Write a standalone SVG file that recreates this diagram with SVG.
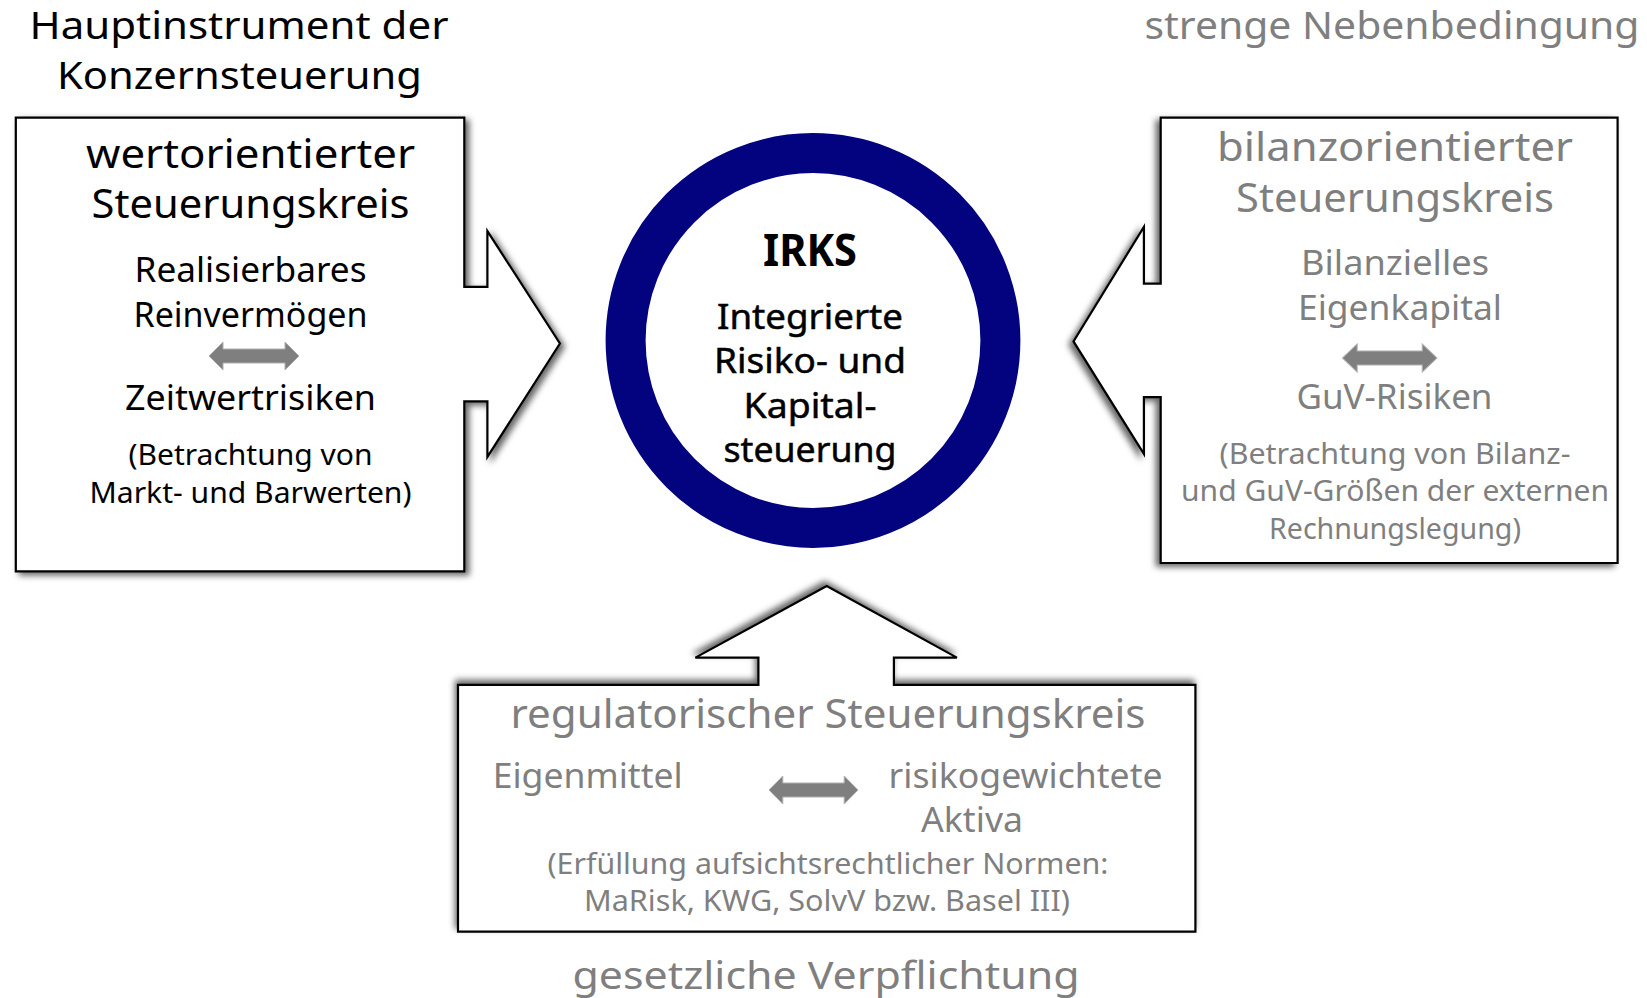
<svg xmlns="http://www.w3.org/2000/svg" width="1647" height="998" viewBox="0 0 1647 998">
<defs>
<style>
text{font-family:"Noto Sans","Open Sans","DejaVu Sans",sans-serif;text-anchor:middle;}
.blk{fill:#000;}
.gry{fill:#7f7f7f;}
.h1{font-size:38px;}
.h2{font-size:40px;}
.t1{font-size:34px;}
.t2{font-size:29px;}
.c1{font-size:44px;font-weight:bold;}
.c2{font-size:35px;stroke:#000;stroke-width:0.5;}
.callout{fill:#fff;stroke:#000;stroke-width:2.2;stroke-linejoin:miter;}
.dbl{fill:#7f7f7f;stroke:#b0b0b0;stroke-width:1;}
</style>
<filter id="shR" x="-10%" y="-10%" width="125%" height="125%">
<feDropShadow dx="4" dy="3" stdDeviation="3" flood-color="#000" flood-opacity="0.6"/>
</filter>
<filter id="shL" x="-15%" y="-10%" width="125%" height="125%">
<feDropShadow dx="-4" dy="3" stdDeviation="3" flood-color="#000" flood-opacity="0.6"/>
</filter>
<filter id="shU" x="-10%" y="-20%" width="125%" height="135%">
<feDropShadow dx="-2" dy="-4" stdDeviation="3" flood-color="#000" flood-opacity="0.6"/>
</filter>
<path id="dblarrow" d="M-45,0 L-31,-14 L-31,-7 L31,-7 L31,-14 L45,0 L31,14 L31,7 L-31,7 L-31,14 Z"/>
</defs>

<g id="title-left" class="blk">
<text class="h1" x="239" y="39" textLength="419" lengthAdjust="spacingAndGlyphs">Hauptinstrument der</text>
<text class="h1" x="239.5" y="89" textLength="365" lengthAdjust="spacingAndGlyphs">Konzernsteuerung</text>
</g>

<g id="title-right" class="gry">
<text class="h1" x="1392" y="39" textLength="495" lengthAdjust="spacingAndGlyphs">strenge Nebenbedingung</text>
</g>

<g id="title-bottom" class="gry">
<text class="h1" x="826" y="989" textLength="507" lengthAdjust="spacingAndGlyphs">gesetzliche Verpflichtung</text>
</g>

<g id="node-left">
<path class="callout" filter="url(#shR)" d="M15.8,117.6 L464.3,117.6 L464.3,286.8 L487.4,286.8 L487.4,231.1 L559.9,343.5 L487.4,456.9 L487.4,401.3 L464.3,401.3 L464.3,571.4 L15.8,571.4 Z"/>
<g class="blk">
<text class="h2" x="250.5" y="168" textLength="329" lengthAdjust="spacingAndGlyphs">wertorientierter</text>
<text class="h2" x="250.5" y="218" textLength="318" lengthAdjust="spacingAndGlyphs">Steuerungskreis</text>
<text class="t1" x="250.5" y="281.5" textLength="232" lengthAdjust="spacingAndGlyphs">Realisierbares</text>
<text class="t1" x="250.5" y="326.5" textLength="234" lengthAdjust="spacingAndGlyphs">Reinvermögen</text>
<text class="t1" x="250.5" y="409.5" textLength="251" lengthAdjust="spacingAndGlyphs">Zeitwertrisiken</text>
<text class="t2" x="250.5" y="465" textLength="244" lengthAdjust="spacingAndGlyphs">(Betrachtung von</text>
<text class="t2" x="250.5" y="503" textLength="322" lengthAdjust="spacingAndGlyphs">Markt- und Barwerten)</text>
</g>
</g>

<g id="node-center">
<circle cx="813" cy="340.5" r="187.4" fill="#fff" stroke="#03037f" stroke-width="40"/>
<g class="blk">
<text class="c1" x="810" y="266" textLength="94" lengthAdjust="spacingAndGlyphs">IRKS</text>
<text class="c2" x="810" y="328.5" textLength="186" lengthAdjust="spacingAndGlyphs">Integrierte</text>
<text class="c2" x="810" y="373" textLength="192" lengthAdjust="spacingAndGlyphs">Risiko- und</text>
<text class="c2" x="810" y="417.5" textLength="133" lengthAdjust="spacingAndGlyphs">Kapital-</text>
<text class="c2" x="810" y="462" textLength="173" lengthAdjust="spacingAndGlyphs">steuerung</text>
</g>
</g>

<g id="node-right">
<path class="callout" filter="url(#shL)" d="M1160.7,117.6 L1617.6,117.6 L1617.6,563 L1160.7,563 L1160.7,397.1 L1143.9,397.1 L1143.9,453.8 L1073.5,341.4 L1143.9,226.9 L1143.9,283.6 L1160.7,283.6 Z"/>
<g class="gry">
<text class="h2" x="1395" y="161" textLength="356" lengthAdjust="spacingAndGlyphs">bilanzorientierter</text>
<text class="h2" x="1395" y="212" textLength="318" lengthAdjust="spacingAndGlyphs">Steuerungskreis</text>
<text class="t1" x="1395" y="275" textLength="188" lengthAdjust="spacingAndGlyphs">Bilanzielles</text>
<text class="t1" x="1400" y="320" textLength="204" lengthAdjust="spacingAndGlyphs">Eigenkapital</text>
<text class="t1" x="1394.5" y="408.5" textLength="196" lengthAdjust="spacingAndGlyphs">GuV-Risiken</text>
<text class="t2" x="1395" y="464" textLength="351" lengthAdjust="spacingAndGlyphs">(Betrachtung von Bilanz-</text>
<text class="t2" x="1395" y="501" textLength="428" lengthAdjust="spacingAndGlyphs">und GuV-Größen der externen</text>
<text class="t2" x="1395" y="539" textLength="252" lengthAdjust="spacingAndGlyphs">Rechnungslegung)</text>
</g>
</g>

<g id="node-bottom">
<path class="callout" filter="url(#shU)" d="M458,684.9 L758.4,684.9 L758.4,657.6 L695.4,657.6 L826.7,586.1 L956.9,657.6 L893.9,657.6 L893.9,684.9 L1195.4,684.9 L1195.4,931.7 L458,931.7 Z"/>
<g class="gry">
<text class="h2" x="828" y="728" textLength="635" lengthAdjust="spacingAndGlyphs">regulatorischer Steuerungskreis</text>
<text class="t1" x="587.7" y="788" textLength="190" lengthAdjust="spacingAndGlyphs">Eigenmittel</text>
<text class="t1" x="1025.6" y="788" textLength="274" lengthAdjust="spacingAndGlyphs">risikogewichtete</text>
<text class="t1" x="972" y="832" textLength="102" lengthAdjust="spacingAndGlyphs">Aktiva</text>
<text class="t2" x="828" y="874" textLength="561" lengthAdjust="spacingAndGlyphs">(Erfüllung aufsichtsrechtlicher Normen:</text>
<text class="t2" x="827" y="911" textLength="486" lengthAdjust="spacingAndGlyphs">MaRisk, KWG, SolvV bzw. Basel III)</text>
</g>
</g>

<g id="connectors">
<use href="#dblarrow" class="dbl" transform="translate(254,356)"/>
<use href="#dblarrow" class="dbl" transform="translate(1389.7,358) scale(1.05,1)"/>
<use href="#dblarrow" class="dbl" transform="translate(813.5,790) scale(0.99,1)"/>
</g>
</svg>
